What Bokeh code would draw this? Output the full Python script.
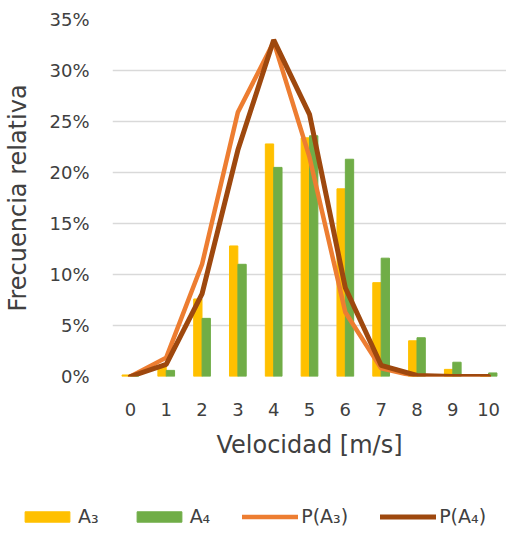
from bokeh.plotting import figure
from bokeh.models import (ColumnDataSource, Range1d, NumeralTickFormatter, FixedTicker,
                          Legend, LegendItem)
from bokeh.layouts import column
from bokeh.transform import dodge
from bokeh.embed import file_html
from bokeh.resources import INLINE

# Data (relative frequency, %)
speeds = [0, 1, 2, 3, 4, 5, 6, 7, 8, 9, 10]
a3 = [0.15, 1.0, 7.6, 12.8, 22.8, 23.4, 18.4, 9.2, 3.5, 0.7, 0.0]
a4 = [0.0, 0.6, 5.7, 11.0, 20.5, 23.6, 21.3, 11.6, 3.8, 1.4, 0.35]
p_a3 = [0.0, 1.85, 11.0, 25.9, 32.8, 21.5, 6.3, 0.8, 0.0, 0.0, 0.0]
p_a4 = [0.0, 1.2, 8.1, 22.2, 33.0, 25.7, 8.7, 1.1, 0.1, 0.0, 0.0]
y_ticks = [0, 5, 10, 15, 20, 25, 30, 35]
series_names = ["A\u2083", "A\u2084", "P(A\u2083)", "P(A\u2084)"]
series_colors = ["#FFC000", "#70AD47", "#ED7D31", "#9E480E"]

src = ColumnDataSource(dict(
    x=speeds,
    a3=[v / 100 for v in a3],
    a4=[v / 100 for v in a4],
    p3=[v / 100 for v in p_a3],
    p4=[v / 100 for v in p_a4],
))

FONT = "DejaVu Sans"
TXT = "#404040"


def draw_series(fig):
    r1 = fig.vbar(x=dodge("x", -0.117, range=fig.x_range), top="a3", width=0.232,
                  source=src, color=series_colors[0])
    r2 = fig.vbar(x=dodge("x", 0.117, range=fig.x_range), top="a4", width=0.232,
                  source=src, color=series_colors[1])
    r3 = fig.line("x", "p3", source=src, line_color=series_colors[2], line_width=4.5,
                  line_cap="round")
    r4 = fig.line("x", "p4", source=src, line_color=series_colors[3], line_width=5,
                  line_cap="round")
    return [r1, r2, r3, r4]


p = figure(width=506, height=490, output_backend="svg", toolbar_location=None,
           x_range=Range1d(-0.5, 10.5), y_range=Range1d(0, 0.35),
           min_border_left=112, min_border_right=0, min_border_top=19,
           min_border_bottom=114)
p.outline_line_color = None
p.background_fill_color = "white"
p.border_fill_color = "white"
draw_series(p)

# axes
p.xaxis.ticker = FixedTicker(ticks=speeds)
p.yaxis.ticker = FixedTicker(ticks=[t / 100 for t in y_ticks])
p.yaxis.formatter = NumeralTickFormatter(format="0%")
for ax in (p.xaxis[0], p.yaxis[0]):
    ax.axis_line_color = None
    ax.major_tick_line_color = None
    ax.minor_tick_line_color = None
    ax.major_label_text_font = FONT
    ax.major_label_text_font_size = "18px"
    ax.major_label_text_color = TXT
    ax.axis_label_text_font = FONT
    ax.axis_label_text_font_size = "24px"
    ax.axis_label_text_font_style = "normal"
    ax.axis_label_text_color = TXT
p.xaxis.axis_label = "Velocidad [m/s]"
p.yaxis.axis_label = "Frecuencia relativa"
p.xaxis.major_label_standoff = 20
p.xaxis.axis_label_standoff = 12
p.yaxis.major_label_standoff = 17
p.yaxis.axis_label_standoff = 14

p.xgrid.grid_line_color = None
p.ygrid.grid_line_color = "#D9D9D9"
p.ygrid.grid_line_width = 1.3

# legend strip below the chart (series drawn out of its visible range)
lg = figure(width=506, height=46, output_backend="svg", toolbar_location=None,
            x_range=Range1d(-0.5, 10.5), y_range=Range1d(5, 6),
            min_border=0, x_axis_location=None, y_axis_location=None)
if "frame_align" in lg.properties():
    lg.frame_align = False
    p.frame_align = False
lg.outline_line_color = None
lg.grid.visible = False
lg.border_fill_color = "white"
lg.background_fill_color = "white"
keys = draw_series(lg)

legend = Legend(items=[LegendItem(label=n, renderers=[r])
                       for n, r in zip(series_names, keys)],
                orientation="horizontal", location=(19, 9))
legend.glyph_width = 56
legend.glyph_height = 13
legend.label_standoff = 3
legend.spacing = 32
legend.padding = 0
legend.margin = 0
legend.border_line_color = None
legend.background_fill_alpha = 0
legend.label_text_font = FONT
legend.label_text_font_size = "19px"
legend.label_text_color = TXT
lg.add_layout(legend, "center")

layout = column(p, lg, spacing=0)
open("out.html", "w").write(file_html(layout, INLINE))
